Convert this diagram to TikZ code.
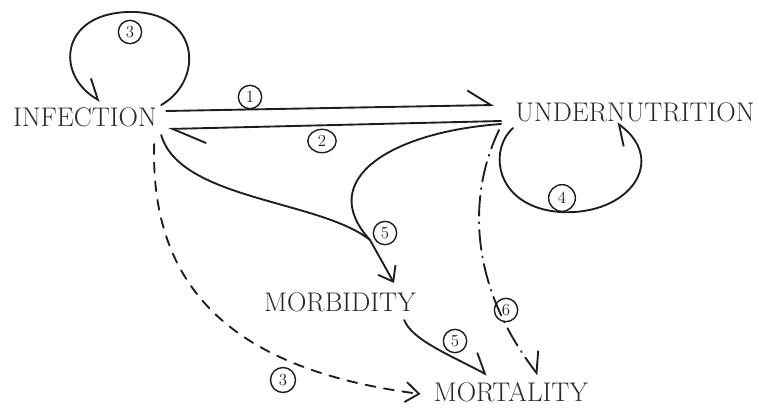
\documentclass[tikz,border=0pt]{standalone}
\usepackage{tikz}
\usepackage{xcolor}
\usetikzlibrary{arrows.meta,positioning,shapes,calc}
\definecolor{ink}{HTML}{2A2A2A}
\definecolor{penink}{HTML}{1E1E1E}
\tikzset{
  term/.style={text=ink,inner sep=1pt,font=\fontsize{23}{26}\selectfont},
  numring/.style={draw=penink,circle,line width=1.2pt,minimum size=7mm,
                  inner sep=0pt,font=\Large,text=penink},
  pen/.style={draw=penink,line width=1.6pt,line cap=round},
  harp/.style={-{Straight Barb[left,length=#1,width=9mm]}},
  harp/.default=7mm,
  barb/.style={-{Straight Barb[length=4mm,width=6mm]}},
  dashpen/.style={pen,dash pattern=on 3mm off 2.6mm},
  dotpen/.style={pen,dash pattern=on 6mm off 2mm on 0.3mm off 2mm}
}

\begin{document}
\begin{tikzpicture}[x=0.3mm,y=-0.3mm]
  \useasboundingbox (0,0) rectangle (759,407);
  \node[term] (inf) at (85,117) {INFECTION};
  \node[term] (und) at (635,112) {UNDERNUTRITION};
  \node[term] (morb) at (340,302) {MORBIDITY};
  \node[term] (mort) at (511,392) {MORTALITY};
  \coordinate (jn) at (370,240);
  % infection <-> undernutrition
  \draw[pen,harp] ([shift={(8,-6)}]inf.east) -- ([shift={(-20,-7)}]und.west);
  \draw[pen,harp=10mm] ([shift={(-13,9)}]und.west) -- ([shift={(10,12)}]inf.east);
  \node[numring] (n1) at (250,97) {1};
  \node[numring,ellipse,minimum width=8.5mm] (n2) at (322,141) {2};
  % self loops
  \draw[pen,harp=5mm] ([shift={(3,-12)}]inf.east) .. controls (205,80) and (200,10) .. (128,12)
    .. controls (60,14) and (55,75) .. ([shift={(15,-5)}]inf.north);
  \node[numring] (n3) at (130,32) {3};
  \draw[pen,harp=5mm] ([shift={(-1,5)}]und.south west) .. controls (488,150) and (495,207) .. (560,212)
    .. controls (630,216) and (668,160) .. ([shift={(-18,0)}]und.south);
  \node[numring,minimum size=8mm] (n4) at (562,198) {4};
  % to morbidity
  \draw[pen] ([shift={(3,18)}]inf.east) .. controls (180,200) and (320,200) .. (jn);
  \draw[pen] ([shift={(-13,12)}]und.west) .. controls (390,132) and (315,180) .. (jn);
  \draw[pen,barb] (jn) -- ([shift={(54,-8)}]morb.north);
  \node[numring] (n5) at (385,233) {5};
  % to mortality
  \draw[pen,harp=5mm] ([shift={(-13,7)}]morb.south east) .. controls (412,340) and (450,355)
    .. ([shift={(-24,-6)}]mort.north);
  \node[numring] (n5b) at (455,341) {5};
  \draw[dashpen,barb] ([shift={(-4,16)}]inf.south east) .. controls (150,290) and (235,370)
    .. ([shift={(-12,2)}]mort.west);
  \node[numring,minimum size=7.5mm] (n3b) at (283,380) {3};
  \draw[dotpen,harp=5mm] ([shift={(-15,7)}]und.south west) .. controls (470,190) and (465,280)
    .. ([shift={(27,-6)}]mort.north);
  \node[numring] (n6) at (506,310) {6};
\end{tikzpicture}
\end{document}
